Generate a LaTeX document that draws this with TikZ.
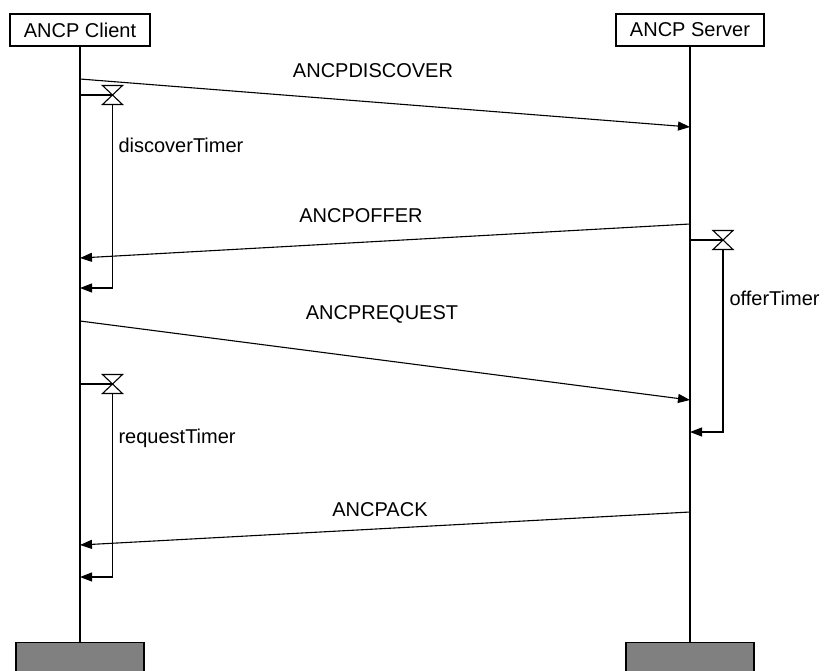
\documentclass[tikz,border=0pt]{standalone}
\usepackage{fontspec}
\setmainfont{Liberation Sans}
\usetikzlibrary{arrows.meta,positioning}

\tikzset{
  entity/.style={draw, line width=1.3pt, minimum height=32pt, inner sep=0pt},
  endbox/.style={draw, line width=1.3pt, fill=gray, minimum width=128pt, minimum height=40pt, inner sep=0pt, anchor=north},
  msg/.style={->, line width=1.1pt},
  hourglass/.pic={\draw[line width=1.1pt] (-10,-9.5) -- (10,-9.5) -- (-10,9.5) -- (10,9.5) -- cycle;}
}

\begin{document}
\begin{tikzpicture}[x=1pt, y=-1pt, >={Triangle[length=12pt,width=9pt]}, every node/.style={font=\fontsize{20}{23}\selectfont}, line width=1.1pt]
    \useasboundingbox (0,0) rectangle (824,670);

    % Entities
    \node[entity, minimum width=140pt] (client) at (80,30) {ANCP Client};
    \node[entity, minimum width=148pt] (server) at (690,30) {ANCP Server};
    \node[endbox] (clientend) at (80,642) {};
    \node[endbox] (serverend) at (690,642) {};

    % Lifelines
    \draw (client.south) -- (clientend.north);
    \draw (server.south) -- (serverend.north);

    % Points on lifelines
    \coordinate (c1) at (80,79);   \coordinate (s1) at (690,127);
    \coordinate (s2) at (690,224); \coordinate (c2) at (80,258);
    \coordinate (c3) at (80,321);  \coordinate (s3) at (690,400);
    \coordinate (s4) at (690,512); \coordinate (c4) at (80,545);

    % Messages
    \draw[msg] (c1) -- (s1);
    \node at (373,71) {ANCPDISCOVER};
    \draw[msg] (s2) -- (c2);
    \node at (361,216) {ANCPOFFER};
    \draw[msg] (c3) -- (s3);
    \node at (382,314) {ANCPREQUEST};
    \draw[msg] (s4) -- (c4);
    \node at (380,510) {ANCPACK};

    % discoverTimer
    \draw (80,95) -- (112.5,95);
    \pic at (112.5,95) {hourglass};
    \draw[->] (112.5,104.5) -- (112.5,288) -- (80,288);
    \node[anchor=base west, inner sep=0pt] at (118,152) {discoverTimer};

    % offerTimer
    \draw (690,240) -- (723,240);
    \pic at (723,240) {hourglass};
    \draw[->] (723,249.5) -- (723,432) -- (690,432);
    \node[anchor=base west, inner sep=0pt] at (729,305) {offerTimer};

    % requestTimer
    \draw (80,384) -- (112.5,384);
    \pic at (112.5,384) {hourglass};
    \draw[->] (112.5,393.5) -- (112.5,577) -- (80,577);
    \node[anchor=base west, inner sep=0pt] at (118,443) {requestTimer};
\end{tikzpicture}
\end{document}
